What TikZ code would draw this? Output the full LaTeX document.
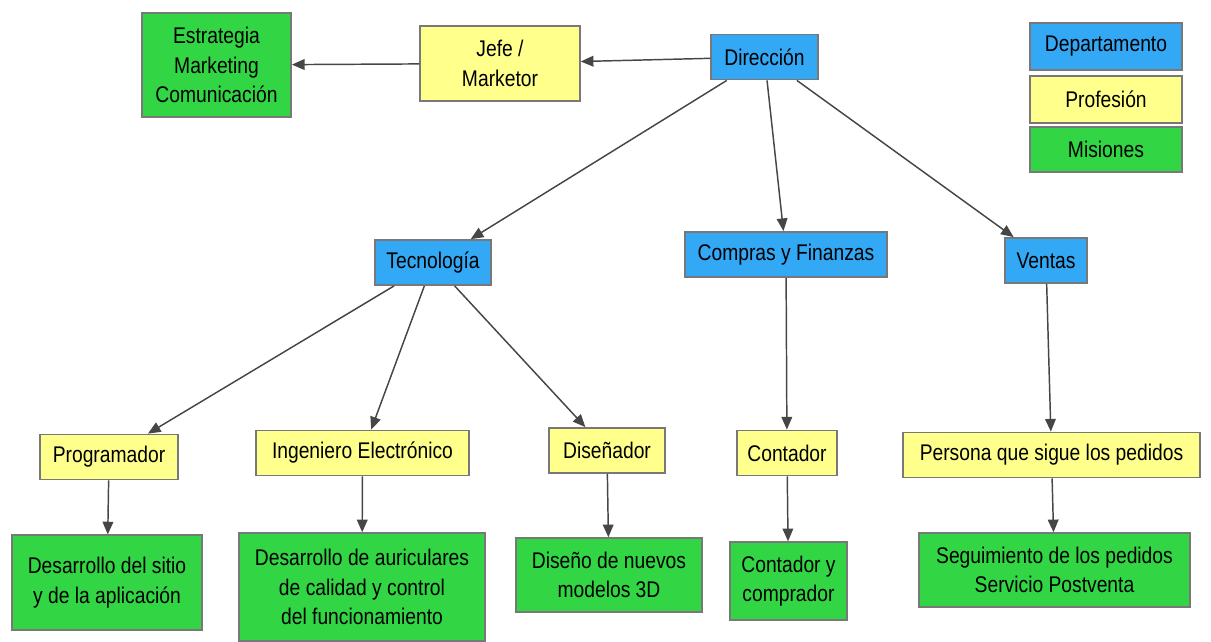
\documentclass[tikz,border=0pt]{standalone}
\usepackage{fontspec}
\setmainfont[FakeStretch=0.85]{Liberation Sans}
\usetikzlibrary{arrows.meta, positioning}
\definecolor{DepBlue}{RGB}{51,168,245}
\definecolor{ProfYellow}{RGB}{255,255,140}
\definecolor{MisGreen}{RGB}{50,214,68}
\definecolor{BordeGris}{RGB}{120,120,120}
\definecolor{FlechaGris}{RGB}{70,70,70}

\begin{document}
\begin{tikzpicture}[x=0.75pt, y=0.75pt,
	font=\fontsize{17}{22}\selectfont,
	caja/.style={rectangle, draw=BordeGris, line width=1.1pt,
		align=center, inner sep=0pt},
	dep/.style={caja, fill=DepBlue, minimum height=34pt},
	prof/.style={caja, fill=ProfYellow, minimum height=34pt},
	mis/.style={caja, fill=MisGreen},
	fl/.style={-{Triangle[length=9.5pt, width=8pt]}, line width=1.1pt, FlechaGris}]

	\useasboundingbox (0,0) rectangle (1211,-642);

	% direccion y marketing
	\node[dep, minimum width=80pt] (dir) at (764.5,-57) {Dirección};
	\node[prof, minimum width=120pt, minimum height=56pt] (jefe) at (500,-63.5)
		{Jefe /\\ Marketor};
	\node[mis, minimum width=112pt, minimum height=78pt] (estr) at (216.5,-65)
		{Estrategia\\ Marketing\\ Comunicación};

	% leyenda
	\node[dep, minimum width=114pt, minimum height=35pt] (ldep) at (1106,-46.5)
		{Departamento};
	\node[prof, minimum width=114pt, minimum height=35pt] (lprof) at (1106,-99.5)
		{Profesión};
	\node[mis, minimum width=114pt, minimum height=34pt] (lmis) at (1106,-149.5)
		{Misiones};

	% departamentos
	\node[dep, minimum width=87pt] (tec) at (433,-262.5) {Tecnología};
	\node[dep, minimum width=151.5pt] (comp) at (786,-254.5) {Compras y Finanzas};
	\node[dep, minimum width=61.5pt] (vent) at (1046,-260.5) {Ventas};

	% profesiones
	\node[prof, minimum width=103.5pt] (prog) at (109,-457) {Programador};
	\node[prof, minimum width=160pt] (ing) at (362.5,-453) {Ingeniero Electrónico};
	\node[prof, minimum width=87pt] (dis) at (607,-450.5) {Diseñador};
	\node[prof, minimum width=75pt] (cont) at (787,-453) {Contador};
	\node[prof, minimum width=223pt] (pers) at (1051.5,-455)
		{Persona que sigue los pedidos};

	% misiones
	\node[mis, minimum width=142.5pt, minimum height=71pt] (msitio) at (107,-582.5)
		{Desarrollo del sitio\\ y de la aplicación};
	\node[mis, minimum width=184.5pt, minimum height=81pt] (maur) at (362,-587)
		{Desarrollo de auriculares\\ de calidad y control\\ del funcionamiento};
	\node[mis, minimum width=139.5pt, minimum height=55.5pt] (mdis) at (609,-575)
		{Diseño de nuevos\\ modelos 3D};
	\node[mis, minimum width=88pt, minimum height=58.5pt] (mcont) at (788.5,-581)
		{Contador y\\ comprador};
	\node[mis, minimum width=203pt, minimum height=55.5pt] (mseg) at (1054.5,-570)
		{Seguimiento de los pedidos\\ Servicio Postventa};

	\draw[fl] (dir) -- (jefe);
	\draw[fl] (jefe) -- (estr);
	\draw[fl] (dir) -- (tec);
	\draw[fl] (dir) -- (comp);
	\draw[fl] (dir) -- (vent);
	\draw[fl] (tec) -- (prog);
	\draw[fl] (tec) -- (ing);
	\draw[fl] (tec) -- (dis);
	\draw[fl] (comp) -- (cont);
	\draw[fl] (vent) -- (pers);
	\draw[fl] (prog) -- (msitio);
	\draw[fl] (ing) -- (maur);
	\draw[fl] (dis) -- (mdis);
	\draw[fl] (cont) -- (mcont);
	\draw[fl] (pers) -- (mseg);
\end{tikzpicture}
\end{document}
